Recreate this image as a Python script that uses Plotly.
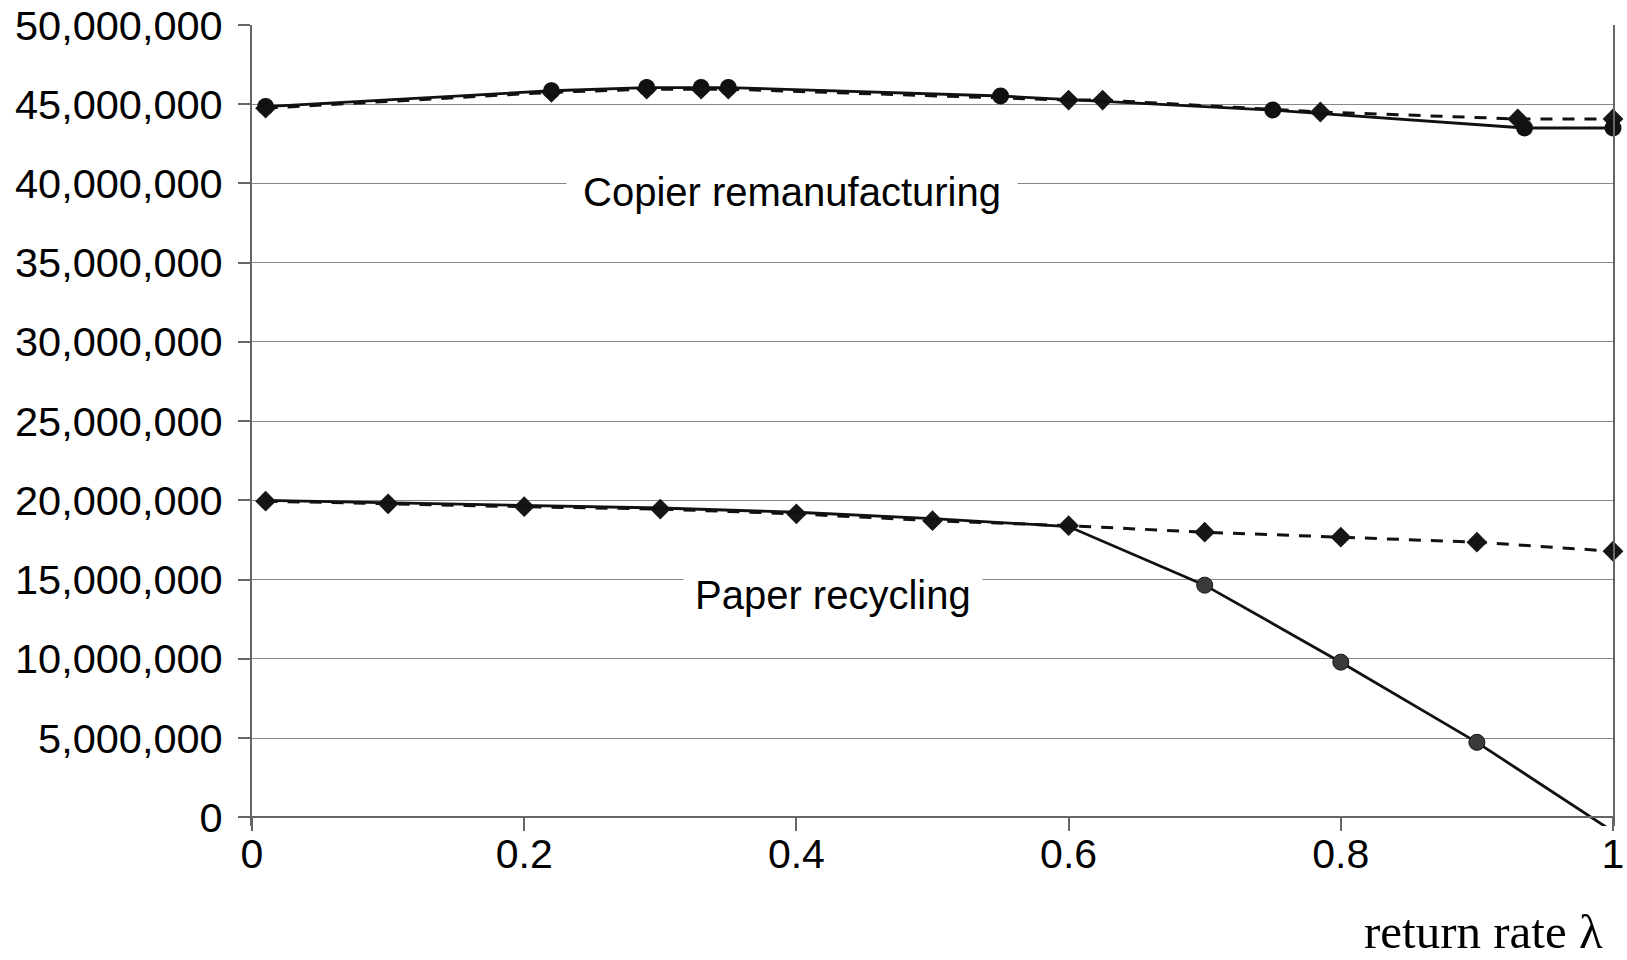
import plotly.graph_objects as go

# ---- data ----
copier_solid_x = [0.01, 0.22, 0.29, 0.33, 0.35, 0.55, 0.75, 0.935, 1.0]
copier_solid_y = [44.85e6, 45.85e6, 46.05e6, 46.05e6, 46.05e6, 45.52e6, 44.63e6, 43.5e6, 43.5e6]

copier_dot_x = [0.01, 0.22, 0.29, 0.33, 0.35, 0.6, 0.625, 0.785, 0.93, 1.0]
copier_dot_y = [44.75e6, 45.75e6, 45.95e6, 45.95e6, 45.95e6, 45.26e6, 45.26e6, 44.51e6, 44.07e6, 44.07e6]

paper_x = [0.01, 0.1, 0.2, 0.3, 0.4, 0.5, 0.6, 0.7, 0.8, 0.9, 1.0]
paper_solid_y = [20.0e6, 19.85e6, 19.68e6, 19.52e6, 19.25e6, 18.85e6, 18.35e6, 14.65e6, 9.79e6, 4.73e6, -0.9e6]
paper_dot_y = [19.95e6, 19.78e6, 19.6e6, 19.45e6, 19.15e6, 18.72e6, 18.4e6, 17.99e6, 17.68e6, 17.36e6, 16.79e6]

x_ticks = [0, 0.2, 0.4, 0.6, 0.8, 1.0]
x_tick_labels = ["0", "0.2", "0.4", "0.6", "0.8", "1"]
y_ticks = [0, 5e6, 10e6, 15e6, 20e6, 25e6, 30e6, 35e6, 40e6, 45e6, 50e6]

label_copier = "Copier remanufacturing"
label_paper = "Paper recycling"
x_title = "return rate λ"

# ---- figure ----
SANS = "Liberation Sans, Arial, sans-serif"
SERIF = "Liberation Serif, Times New Roman, serif"

fig = go.Figure()

# paper recycling, dotted with diamonds
fig.add_trace(go.Scatter(
    x=paper_x, y=paper_dot_y, mode="lines+markers",
    line=dict(color="#111111", width=3, dash="12px,10px"),
    marker=dict(symbol="diamond", size=16, color="#161616", opacity=1),
    cliponaxis=False, showlegend=False, hoverinfo="skip"))
# paper recycling, solid with circles after 0.6
fig.add_trace(go.Scatter(
    x=paper_x, y=paper_solid_y, mode="lines+markers",
    line=dict(color="#111111", width=2.8),
    marker=dict(symbol="circle", size=[0 if v <= 0.6 else 16 for v in paper_x],
                color="#3a3a3a", opacity=1),
    showlegend=False, hoverinfo="skip"))

# copier remanufacturing, dotted with diamonds
fig.add_trace(go.Scatter(
    x=copier_dot_x, y=copier_dot_y, mode="lines+markers",
    line=dict(color="#111111", width=3, dash="12px,10px"),
    marker=dict(symbol="diamond", size=16, color="#161616", opacity=1),
    cliponaxis=False, showlegend=False, hoverinfo="skip"))
# copier remanufacturing, solid with circles
fig.add_trace(go.Scatter(
    x=copier_solid_x, y=copier_solid_y, mode="lines+markers",
    line=dict(color="#111111", width=2.8),
    marker=dict(symbol="circle", size=17, color="#111111", opacity=1),
    cliponaxis=False, showlegend=False, hoverinfo="skip"))

fig.add_annotation(x=0.397, y=39.47e6, xref="x", yref="y", text=label_copier,
                   showarrow=False, font=dict(family=SANS, size=40, color="#000"),
                   bgcolor="white", borderpad=16)
fig.add_annotation(x=0.427, y=14.02e6, xref="x", yref="y", text=label_paper,
                   showarrow=False, font=dict(family=SANS, size=40, color="#000"),
                   bgcolor="white", borderpad=11)

plot_top = 25
plot_bot = 826
plot_h = plot_bot - plot_top
x_pos = (plot_bot - 817) / plot_h
title_y = (plot_bot - 932) / plot_h

fig.add_annotation(x=0.9935, y=title_y, xref="x", yref="paper", text=x_title,
                   showarrow=False, xanchor="right", yanchor="middle", borderpad=0,
                   font=dict(family=SERIF, size=49, color="#000"))

ymin = -0.55e6

fig.update_layout(
    width=1627, height=960,
    margin=dict(l=252, r=14, t=plot_top, b=960 - plot_bot, autoexpand=False),
    paper_bgcolor="white", plot_bgcolor="white",
    font=dict(family=SANS, size=41, color="#000"),
    hovermode=False,
    xaxis=dict(range=[0, 1], tickvals=x_ticks, ticktext=x_tick_labels,
               showgrid=False, zeroline=False, automargin=False,
               showline=True, linecolor="#666666", linewidth=2,
               ticks="outside", ticklen=13, tickwidth=2, tickcolor="#666666",
               anchor="free", position=x_pos, ticklabelstandoff=-12,
               tickfont=dict(family=SANS, size=41, color="#000")),
    yaxis=dict(range=[ymin, 50e6], tickvals=y_ticks, tickformat=",d",
               showgrid=True, gridcolor="#888888", gridwidth=1.2,
               zeroline=False, automargin=False,
               showline=True, linecolor="#666666", linewidth=2, mirror=True,
               ticks="outside", ticklen=12, tickwidth=1.5, tickcolor="#666666",
               ticklabelstandoff=7,
               tickfont=dict(family=SANS, size=41.5, color="#000")),
)

fig.write_html("out.html", config={"displayModeBar": False},
               post_script="document.body.style.margin='0px';document.body.style.overflow='hidden';")
